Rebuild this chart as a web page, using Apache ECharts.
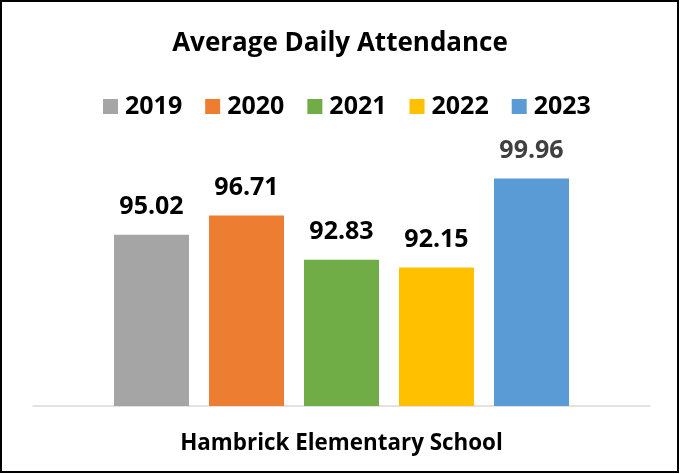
<!DOCTYPE html>
<html>
<head>
<meta charset="utf-8">
<script src="https://cdn.jsdelivr.net/npm/echarts@6/dist/echarts.min.js"></script>
<style>
html,body{margin:0;padding:0;background:#fff;}
#chart{width:680px;height:474px;}
</style>
</head>
<body>
<div id="chart"></div>
<script>
const categories = ['Hambrick Elementary School'];
const years = ['2019', '2020', '2021', '2022', '2023'];
const values = [95.02, 96.71, 92.83, 92.15, 99.96];
const colors = ['#A5A5A5', '#ED7D31', '#70AD47', '#FFC000', '#5B9BD5'];
const labelColors = ['#000000', '#000000', '#000000', '#000000', '#404040'];

const FONT = 'Open Sans';
const chart = echarts.init(document.getElementById('chart'), null, {renderer: 'canvas'});
const series = years.map((y, i) => ({
  name: y,
  type: 'bar',
  data: [values[i]],
  barWidth: 75,
  barGap: '26.67%',
  itemStyle: {color: colors[i]},
  label: {
    show: true,
    position: 'top',
    distance: 15,
    color: labelColors[i],
    fontFamily: FONT,
    fontWeight: 'bold',
    fontSize: 25,
    formatter: (p) => p.value.toFixed(2)
  }
}));

chart.setOption({
  animation: false,
  backgroundColor: '#fff',
  title: {
    text: 'Average Daily Attendance',
    left: 'center',
    top: 26,
    textStyle: {fontFamily: FONT, fontWeight: 'bold', fontSize: 26, color: '#000'}
  },
  legend: {
    data: years,
    top: 89,
    left: 98,
    icon: 'rect',
    itemWidth: 15,
    itemHeight: 15,
    itemGap: 23,
    textStyle: {fontFamily: FONT, fontWeight: 'bold', fontSize: 25, color: '#000', padding: [0, 0, 0, 2]}
  },
  grid: {left: 33, right: 30, top: 178, bottom: 68, containLabel: false},
  xAxis: {
    type: 'category',
    data: categories,
    axisLine: {lineStyle: {color: '#D9D9D9', width: 1.5}},
    axisTick: {show: false},
    axisLabel: {fontFamily: FONT, fontWeight: 'bold', fontSize: 22.4, color: '#000', margin: 27}
  },
  yAxis: {type: 'value', min: 80, max: 100, show: false, splitLine: {show: false}},
  series: series,
  graphic: [{
    type: 'rect',
    shape: {x: 1, y: 1, width: 677, height: 471},
    style: {fill: 'none', stroke: '#000', lineWidth: 2},
    z: 100
  }]
});
</script>
</body>
</html>
